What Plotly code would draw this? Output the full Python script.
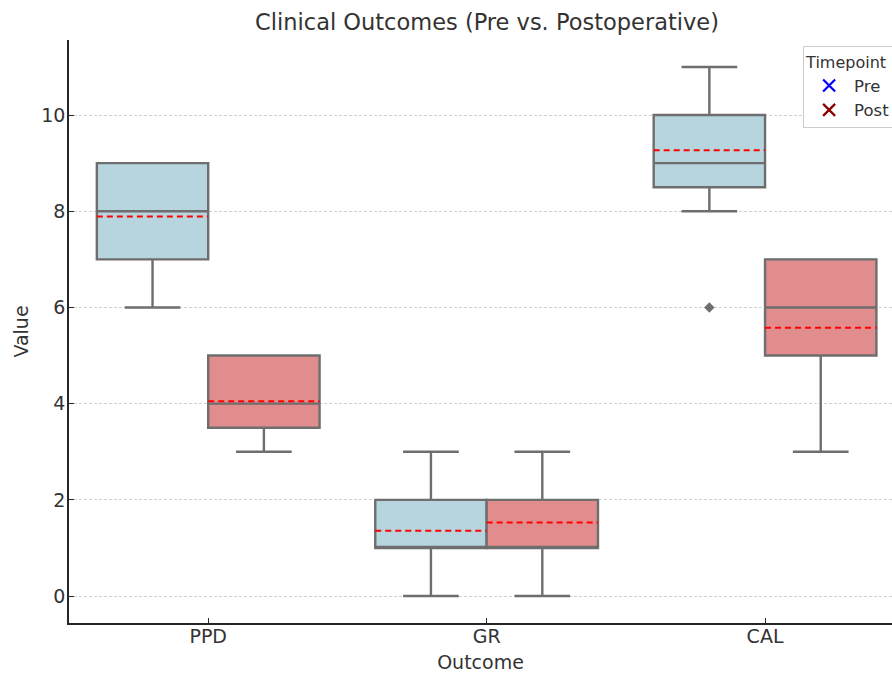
import plotly.graph_objects as go

categories = ["PPD", "GR", "CAL"]

pre_q1 = [7, 1, 8.5]
pre_median = [8, 1, 9]
pre_q3 = [9, 2, 10]
pre_low = [6, 0, 8]
pre_high = [9, 3, 11]
pre_mean = [7.89, 1.36, 9.27]

post_q1 = [3.5, 1, 5]
post_median = [4, 1, 6]
post_q3 = [5, 2, 7]
post_low = [3, 0, 3]
post_high = [5, 3, 7]
post_mean = [4.05, 1.53, 5.58]

outlier_cat = ["CAL"]
outlier_group = ["Pre"]
outlier_val = [6]

y_ticks = [0, 2, 4, 6, 8, 10]

PRE_FILL = "#B6D5DF"
POST_FILL = "#E28D8D"
EDGE = "#6E6E6E"
BOX_W = 0.4

fig = go.Figure()

groups = [
    ("Pre", -BOX_W / 2, PRE_FILL, pre_q1, pre_median, pre_q3, pre_low, pre_high, pre_mean),
    ("Post", BOX_W / 2, POST_FILL, post_q1, post_median, post_q3, post_low, post_high, post_mean),
]

for name, off, fill, q1, med, q3, lo, hi, mn in groups:
    xs = [i + off for i in range(len(categories))]
    fig.add_trace(go.Box(
        x=xs, q1=q1, median=med, q3=q3, lowerfence=lo, upperfence=hi,
        width=BOX_W, whiskerwidth=0.5, fillcolor=fill,
        line=dict(color=EDGE, width=2.4), showlegend=False, hoverinfo="skip",
        boxpoints=False,
    ))
    for i, m in enumerate(mn):
        c = i + off
        fig.add_trace(go.Scatter(
            x=[c - BOX_W / 2, c + BOX_W / 2], y=[m, m], mode="lines",
            line=dict(color="red", width=2, dash="6px,4px"),
            showlegend=False, hoverinfo="skip",
        ))

offsets = {"Pre": -BOX_W / 2, "Post": BOX_W / 2}
fig.add_trace(go.Scatter(
    x=[categories.index(c) + offsets[g] for c, g in zip(outlier_cat, outlier_group)],
    y=outlier_val, mode="markers",
    marker=dict(symbol="diamond", size=8, color=EDGE),
    showlegend=False, hoverinfo="skip",
))

for name, col in [("Pre", "blue"), ("Post", "darkred")]:
    fig.add_trace(go.Scatter(
        x=[None], y=[None], mode="markers", name=name,
        marker=dict(symbol="x-thin", size=12, color=col,
                    line=dict(color=col, width=2.2)),
    ))

font_family = "DejaVu Sans, sans-serif"
fig.update_layout(
    width=892, height=673,
    margin=dict(l=69, r=0, t=40, b=50, autoexpand=False),
    paper_bgcolor="white", plot_bgcolor="white",
    font=dict(family=font_family, color="#333333", size=19),
    title=dict(text="Clinical Outcomes (Pre vs. Postoperative)", x=487 / 892, xanchor="center",
               y=1 - 22 / 673, yref="container", yanchor="middle",
               font=dict(size=22.5, color="#333333")),
    legend=dict(title=dict(text="Timepoint", font=dict(size=16)),
                font=dict(size=16.5), x=0.892, xanchor="left", y=0.989, yanchor="top",
                bgcolor="rgba(255,255,255,0.9)", bordercolor="#cccccc", borderwidth=1,
                itemwidth=40, tracegroupgap=0),
    showlegend=True,
)

fig.update_xaxes(
    range=[-0.5, 2.456], tickvals=list(range(len(categories))), ticktext=categories,
    showline=True, linecolor="#262626", linewidth=1.5, ticks="inside", ticklen=5,
    tickcolor="#262626", showgrid=False, zeroline=False, ticklabelstandoff=-5,
    title=dict(text="Outcome", font=dict(size=19), standoff=10),
    tickfont=dict(size=19),
)
fig.update_yaxes(
    range=[-0.56, 11.56], tickvals=y_ticks,
    showline=True, linecolor="#262626", linewidth=1.5, ticks="inside", ticklen=5,
    tickcolor="#262626", showgrid=True, gridcolor="#d0d0d0", griddash="3px,2px",
    gridwidth=1, zeroline=False, ticklabelstandoff=-2,
    title=dict(text="Value", font=dict(size=19), standoff=8),
    tickfont=dict(size=19),
)

fig.write_html("out.html")
